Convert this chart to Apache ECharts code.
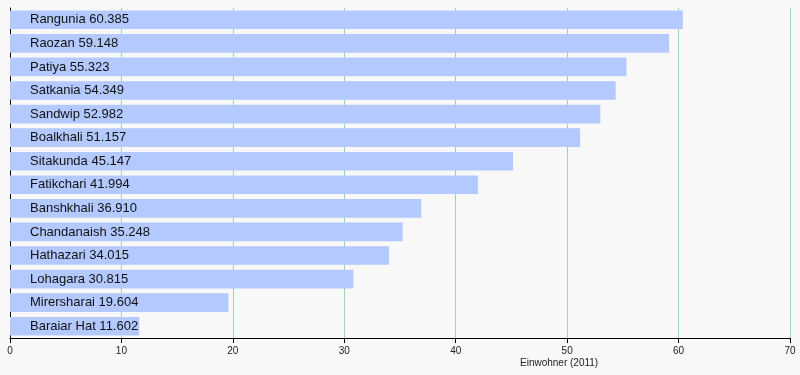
<!DOCTYPE html>
<html><head><meta charset="utf-8">
<script src="https://cdn.jsdelivr.net/npm/echarts@6/dist/echarts.min.js"></script>
<style>html,body{margin:0;padding:0;background:#f8f8f8}#c{width:800px;height:375px}</style>
</head><body><div id="c"></div>
<script>
var categories = ["Rangunia","Raozan","Patiya","Satkania","Sandwip","Boalkhali","Sitakunda","Fatikchari","Banshkhali","Chandanaish","Hathazari","Lohagara","Mirersharai","Baraiar Hat"];
var labels = ["60.385","59.148","55.323","54.349","52.982","51.157","45.147","41.994","36.910","35.248","34.015","30.815","19.604","11.602"];
var values = [60.385,59.148,55.323,54.349,52.982,51.157,45.147,41.994,36.910,35.248,34.015,30.815,19.604,11.602];
var xTicks = [0,10,20,30,40,50,60,70];
var axisName = "Einwohner (2011)";

var chart = echarts.init(document.getElementById('c'));
chart.setOption({
  backgroundColor: '#f8f8f8',
  animation: false,
  grid: {left: 10, right: 10, top: 8, bottom: 37},
  xAxis: {
    type: 'value', min: xTicks[0], max: xTicks[xTicks.length-1], interval: 10,
    axisLine: {show: true, lineStyle: {color: '#000', width: 1}},
    axisTick: {show: true, length: 5, lineStyle: {color: '#000'}},
    axisLabel: {color: '#222', fontSize: 10, fontFamily: 'Liberation Sans', margin: 8},
    splitLine: {show: true, lineStyle: {color: '#98d4ae', width: 1}}
  },
  yAxis: {
    type: 'category', data: categories, inverse: true,
    axisLine: {show: true, lineStyle: {color: '#000', width: 1}},
    axisTick: {show: false},
    axisLabel: {show: false}
  },
  graphic: [{
    type: 'text', left: 520, top: 358,
    style: {text: axisName, fill: '#222', font: '10px "Liberation Sans"'}
  }],
  series: [{
    type: 'bar',
    data: values,
    barCategoryGap: '21%',
    itemStyle: {color: '#b3c9ff'},
    label: {
      show: true, position: 'insideLeft', offset: [15, 0],
      color: '#111', fontSize: 13, fontFamily: 'Liberation Sans',
      formatter: function(p){ return categories[p.dataIndex] + ' ' + labels[p.dataIndex]; }
    }
  }]
});
</script></body></html>
